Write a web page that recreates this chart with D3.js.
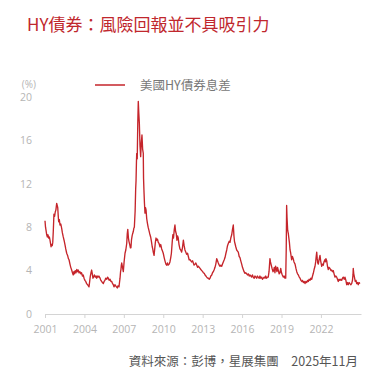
<!DOCTYPE html>
<html>
<head>
<meta charset="utf-8">
<script src="https://cdn.jsdelivr.net/npm/d3@7"></script>
<style>
  body { margin: 0; background: #fff; }
  svg { display: block; font-family: "Noto Sans CJK TC", "Noto Sans", sans-serif; }
</style>
</head>
<body>
<div id="chart"></div>
<script>
const titleText = "HY債券：風險回報並不具吸引力";
const seriesName = "美國HY債券息差";
const sourceText = "資料來源：彭博，星展集團　2025年11月";
const unitLabel = "(%)";

const yTicks = [0, 4, 8, 12, 16, 20];
const xTicks = [2001, 2004, 2007, 2010, 2013, 2016, 2019, 2022];

// [position on year axis, spread %]
const spreadSeries = [
  [2001.00, 8.6], [2001.04, 8.0], [2001.08, 7.7], [2001.13, 7.3], [2001.18, 7.1], [2001.23, 7.3],
  [2001.28, 7.0], [2001.33, 7.1], [2001.38, 6.8], [2001.42, 6.5], [2001.46, 6.2], [2001.50, 6.4],
  [2001.55, 6.3], [2001.59, 6.6], [2001.63, 7.6], [2001.68, 9.2], [2001.73, 9.0], [2001.78, 9.4],
  [2001.83, 9.6], [2001.89, 10.2], [2001.93, 10.0], [2001.97, 9.8], [2002.01, 9.0], [2002.04, 8.5],
  [2002.09, 8.7], [2002.14, 8.2], [2002.20, 8.3], [2002.27, 7.9], [2002.32, 7.5], [2002.39, 7.1],
  [2002.45, 6.8], [2002.52, 6.4], [2002.58, 6.0], [2002.65, 5.6], [2002.72, 5.4], [2002.78, 5.1],
  [2002.83, 5.0], [2002.90, 4.6], [2002.96, 4.3], [2003.03, 4.05], [2003.09, 3.8], [2003.15, 3.6],
  [2003.20, 3.9], [2003.25, 3.7], [2003.30, 4.0], [2003.36, 3.8], [2003.42, 4.1], [2003.48, 3.9],
  [2003.53, 4.05], [2003.59, 3.8], [2003.66, 3.9], [2003.72, 3.7], [2003.78, 3.8], [2003.85, 3.5],
  [2003.91, 3.6], [2003.97, 3.3], [2004.04, 3.1], [2004.10, 3.0], [2004.17, 2.8], [2004.24, 2.7],
  [2004.30, 2.6], [2004.35, 2.5], [2004.40, 3.0], [2004.45, 3.5], [2004.50, 3.8], [2004.55, 4.05],
  [2004.60, 3.7], [2004.65, 3.3], [2004.70, 3.4], [2004.76, 3.6], [2004.82, 3.4], [2004.88, 3.5],
  [2004.93, 3.3], [2004.98, 3.5], [2005.04, 3.4], [2005.10, 3.5], [2005.19, 3.3], [2005.25, 3.1],
  [2005.31, 3.0], [2005.37, 2.9], [2005.44, 2.8], [2005.50, 3.0], [2005.56, 3.1], [2005.62, 3.3],
  [2005.70, 3.2], [2005.76, 3.4], [2005.82, 3.3], [2005.88, 3.1], [2005.95, 3.2], [2006.02, 3.0],
  [2006.08, 3.0], [2006.14, 2.8], [2006.20, 2.7], [2006.25, 2.5], [2006.32, 2.7], [2006.38, 2.6],
  [2006.44, 2.5], [2006.50, 2.4], [2006.56, 2.6], [2006.63, 2.5], [2006.67, 2.9], [2006.71, 3.3],
  [2006.75, 3.9], [2006.78, 4.1], [2006.81, 4.5], [2006.84, 4.7], [2006.90, 4.3], [2006.96, 3.9],
  [2007.02, 4.8], [2007.09, 5.6], [2007.15, 5.9], [2007.22, 6.5], [2007.26, 7.4], [2007.30, 7.8],
  [2007.35, 7.0], [2007.39, 6.7], [2007.45, 6.4], [2007.50, 6.1], [2007.54, 6.1], [2007.58, 6.8],
  [2007.63, 7.2], [2007.67, 7.4], [2007.72, 7.6], [2007.76, 7.9], [2007.80, 8.0], [2007.86, 9.5],
  [2007.90, 11.5], [2007.93, 12.3], [2007.96, 14.0], [2007.98, 14.8], [2008.02, 14.3], [2008.06, 17.5],
  [2008.10, 19.6], [2008.14, 18.5], [2008.18, 17.6], [2008.23, 15.5], [2008.28, 14.5], [2008.33, 15.8],
  [2008.38, 16.5], [2008.43, 15.2], [2008.48, 14.8], [2008.50, 12.5], [2008.53, 11.4], [2008.57, 10.2],
  [2008.61, 9.3], [2008.65, 9.8], [2008.69, 9.6], [2008.74, 8.8], [2008.79, 8.4], [2008.85, 8.0],
  [2008.91, 7.7], [2008.97, 7.4], [2009.04, 7.1], [2009.10, 6.7], [2009.16, 6.2], [2009.20, 6.0],
  [2009.24, 5.7], [2009.30, 5.4], [2009.35, 6.0], [2009.40, 6.6], [2009.45, 7.0], [2009.50, 6.8],
  [2009.56, 6.9], [2009.62, 6.6], [2009.68, 6.5], [2009.75, 6.2], [2009.81, 6.4], [2009.88, 6.0],
  [2009.94, 5.8], [2010.00, 5.6], [2010.07, 5.2], [2010.13, 4.9], [2010.20, 4.6], [2010.26, 4.5],
  [2010.32, 4.7], [2010.38, 4.5], [2010.45, 4.6], [2010.51, 4.8], [2010.57, 5.2], [2010.62, 5.6],
  [2010.68, 6.6], [2010.73, 7.3], [2010.78, 7.0], [2010.84, 7.8], [2010.89, 8.2], [2010.94, 7.6],
  [2010.99, 7.4], [2011.04, 6.8], [2011.09, 7.2], [2011.14, 7.0], [2011.20, 6.4], [2011.27, 6.0],
  [2011.33, 5.9], [2011.40, 5.7], [2011.46, 6.1], [2011.53, 6.8], [2011.59, 6.3], [2011.65, 5.9],
  [2011.72, 5.7], [2011.78, 5.5], [2011.85, 5.6], [2011.91, 5.3], [2011.97, 5.0], [2012.04, 5.0],
  [2012.10, 4.9], [2012.16, 4.8], [2012.23, 4.9], [2012.29, 4.7], [2012.35, 4.5], [2012.42, 4.6],
  [2012.48, 4.7], [2012.55, 4.5], [2012.61, 4.3], [2012.67, 4.4], [2012.74, 4.3], [2012.80, 4.2],
  [2012.86, 4.1], [2012.93, 4.0], [2013.00, 3.9], [2013.05, 3.8], [2013.12, 3.75], [2013.18, 3.6],
  [2013.25, 3.5], [2013.31, 3.4], [2013.38, 3.3], [2013.44, 3.3], [2013.50, 3.2], [2013.56, 3.3],
  [2013.62, 3.5], [2013.69, 3.6], [2013.75, 3.8], [2013.81, 3.9], [2013.88, 4.1], [2013.94, 4.3],
  [2014.00, 4.6], [2014.07, 5.1], [2014.13, 4.9], [2014.19, 4.7], [2014.26, 4.5], [2014.32, 4.4],
  [2014.38, 4.5], [2014.45, 4.4], [2014.51, 4.6], [2014.57, 4.8], [2014.64, 5.0], [2014.70, 5.2],
  [2014.77, 5.6], [2014.83, 5.9], [2014.89, 6.3], [2014.95, 6.5], [2015.02, 6.7], [2015.08, 6.6],
  [2015.14, 7.0], [2015.21, 7.3], [2015.27, 7.8], [2015.33, 8.2], [2015.38, 7.2], [2015.42, 6.7],
  [2015.46, 6.5], [2015.52, 6.2], [2015.59, 5.9], [2015.65, 5.8], [2015.71, 5.7], [2015.78, 5.3],
  [2015.84, 5.2], [2015.90, 4.9], [2015.97, 4.6], [2016.03, 4.3], [2016.09, 4.1], [2016.15, 3.9],
  [2016.22, 3.75], [2016.28, 3.8], [2016.35, 3.7], [2016.41, 3.6], [2016.47, 3.7], [2016.54, 3.5],
  [2016.60, 3.6], [2016.67, 3.5], [2016.73, 3.4], [2016.79, 3.6], [2016.85, 3.4], [2016.92, 3.3],
  [2016.98, 3.5], [2017.05, 3.4], [2017.11, 3.3], [2017.17, 3.5], [2017.23, 3.4], [2017.30, 3.3],
  [2017.36, 3.5], [2017.42, 3.3], [2017.49, 3.4], [2017.55, 3.2], [2017.61, 3.3], [2017.68, 3.4],
  [2017.74, 3.3], [2017.80, 3.5], [2017.86, 3.3], [2017.93, 3.4], [2017.99, 3.4], [2018.05, 3.9],
  [2018.12, 5.1], [2018.16, 4.8], [2018.22, 4.5], [2018.28, 4.2], [2018.35, 3.9], [2018.40, 4.0],
  [2018.45, 4.3], [2018.50, 3.8], [2018.55, 4.4], [2018.60, 4.2], [2018.65, 3.9], [2018.70, 4.3],
  [2018.76, 4.0], [2018.82, 3.7], [2018.88, 3.8], [2018.94, 4.2], [2019.00, 3.8], [2019.06, 3.6],
  [2019.14, 3.4], [2019.20, 3.5], [2019.26, 3.3], [2019.32, 3.3], [2019.36, 6.0], [2019.39, 10.0],
  [2019.42, 8.9], [2019.47, 7.7], [2019.52, 7.4], [2019.56, 7.0], [2019.60, 6.6], [2019.65, 5.9],
  [2019.70, 5.6], [2019.77, 5.0], [2019.83, 5.3], [2019.89, 5.1], [2019.95, 4.8], [2020.03, 4.6],
  [2020.10, 4.2], [2020.16, 3.9], [2020.22, 3.7], [2020.28, 3.6], [2020.35, 3.4], [2020.41, 3.3],
  [2020.48, 3.1], [2020.54, 3.0], [2020.60, 3.1], [2020.66, 2.9], [2020.73, 3.0], [2020.79, 2.8],
  [2020.85, 3.0], [2020.92, 2.9], [2020.98, 3.1], [2021.04, 3.0], [2021.10, 3.2], [2021.17, 3.1],
  [2021.23, 3.3], [2021.30, 3.2], [2021.36, 3.5], [2021.42, 3.75], [2021.48, 4.1], [2021.55, 4.4],
  [2021.60, 4.8], [2021.64, 5.3], [2021.68, 5.7], [2021.72, 5.1], [2021.76, 4.7], [2021.80, 4.6],
  [2021.86, 5.0], [2021.93, 5.4], [2021.98, 4.9], [2022.06, 4.4], [2022.12, 4.6], [2022.18, 4.5],
  [2022.23, 4.8], [2022.30, 5.0], [2022.34, 4.8], [2022.38, 5.1], [2022.44, 4.9], [2022.50, 4.4],
  [2022.56, 4.1], [2022.62, 4.3], [2022.69, 4.2], [2022.76, 4.0], [2022.82, 4.05], [2022.88, 3.9],
  [2022.94, 4.0], [2023.00, 3.7], [2023.07, 3.4], [2023.13, 3.5], [2023.20, 3.4], [2023.26, 3.2],
  [2023.32, 3.0], [2023.38, 3.2], [2023.45, 3.1], [2023.51, 3.2], [2023.58, 3.1], [2023.64, 3.3],
  [2023.70, 3.4], [2023.77, 3.2], [2023.83, 3.4], [2023.90, 3.1], [2023.96, 2.7], [2024.02, 2.9],
  [2024.08, 2.7], [2024.15, 2.9], [2024.21, 2.8], [2024.28, 2.7], [2024.34, 2.8], [2024.40, 3.1],
  [2024.44, 3.6], [2024.46, 4.2], [2024.50, 3.7], [2024.55, 3.4], [2024.61, 3.0], [2024.67, 3.1],
  [2024.72, 2.8], [2024.78, 2.9], [2024.84, 2.7], [2024.90, 2.9], [2024.97, 2.8]
];

const width = 385, height = 382;
const margin = { top: 97, right: 24, bottom: 68, left: 45 };
const innerW = width - margin.left - margin.right;
const innerH = height - margin.top - margin.bottom;
const lineColor = "#c5252b";

const svg = d3.select("#chart")
    .append("svg")
    .attr("width", width)
    .attr("height", height);

svg.append("text")
    .attr("x", 27)
    .attr("y", 31)
    .attr("fill", "#c0272d")
    .style("font-size", "17px")
    .text(titleText);

const g = svg.append("g")
    .attr("transform", `translate(${margin.left},${margin.top})`);

const x = d3.scaleLinear()
    .domain([2001, 2025.05])
    .range([0, innerW]);

const y = d3.scaleLinear()
    .domain([0, 20])
    .range([innerH, 0]);

// x axis
const xAxis = g.append("g")
    .attr("transform", `translate(0,${innerH})`)
    .call(d3.axisBottom(x).tickValues(xTicks).tickFormat(d3.format("d")).tickSizeInner(4).tickSizeOuter(0));
xAxis.select(".domain").attr("stroke", "#d4d4d4");
xAxis.selectAll(".tick line").attr("stroke", "#d4d4d4");
xAxis.selectAll("text")
    .attr("fill", "#b5b5b5")
    .attr("dy", "1.1em")
    .style("font-family", "'Open Sans', sans-serif")
    .style("font-size", "10.5px");

// y axis
const yAxis = g.append("g")
    .attr("transform", "translate(-10,0)")
    .call(d3.axisLeft(y).tickValues(yTicks).tickSize(0));
yAxis.select(".domain").remove();
yAxis.selectAll("text")
    .attr("fill", "#b5b5b5")
    .style("font-family", "'Open Sans', sans-serif")
    .style("font-size", "10.5px");

svg.append("text")
    .attr("x", 36)
    .attr("y", 88)
    .attr("text-anchor", "end")
    .attr("fill", "#b5b5b5")
    .style("font-family", "'Open Sans', sans-serif")
    .style("font-size", "10px")
    .text(unitLabel);

// legend
svg.append("line")
    .attr("x1", 95).attr("x2", 125)
    .attr("y1", 85).attr("y2", 85)
    .attr("stroke", lineColor)
    .attr("stroke-width", 1.5);
svg.append("text")
    .attr("x", 140)
    .attr("y", 89.5)
    .attr("fill", "#777")
    .style("font-size", "12.5px")
    .text(seriesName);

const line = d3.line()
    .x(d => x(d[0]))
    .y(d => y(d[1]));

g.append("path")
    .datum(spreadSeries)
    .attr("fill", "none")
    .attr("stroke", lineColor)
    .attr("stroke-width", 1.35)
    .attr("stroke-linejoin", "round")
    .attr("d", line);

svg.append("text")
    .attr("x", 358)
    .attr("y", 366)
    .attr("text-anchor", "end")
    .attr("fill", "#555")
    .style("font-size", "12.5px")
    .text(sourceText);
</script>
</body>
</html>
